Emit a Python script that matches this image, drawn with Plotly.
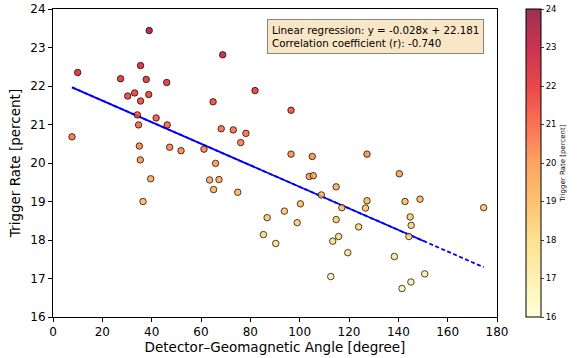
import numpy as np
import plotly.graph_objects as go

# Data
angle = [7.7, 10.0, 27.4, 30.3, 33.1, 34.2, 34.7, 35.0, 35.4, 35.5, 35.5, 36.5, 37.8, 38.8, 39.0,
         39.6, 41.8, 46.1, 46.3, 47.3, 51.9, 61.2, 63.5, 64.9, 65.1, 65.9, 67.3, 68.2, 68.8, 73.1,
         74.9, 76.1, 78.2, 81.9, 85.3, 86.8, 90.3, 93.8, 96.5, 96.5, 99.0, 100.3, 103.9, 105.1,
         105.5, 108.8, 112.6, 113.4, 114.8, 114.8, 115.8, 117.1, 119.5, 123.9, 126.7, 127.3, 127.3,
         138.4, 140.4, 141.5, 142.7, 144.3, 144.8, 145.1, 145.2, 148.8, 150.7, 174.6]
rate = [20.68, 22.35, 22.19, 21.74, 21.82, 21.25, 20.99, 20.44, 20.08, 22.53, 21.61, 19.00, 22.17,
        21.78, 23.44, 19.59, 21.17, 22.09, 20.99, 20.41, 20.32, 20.36, 19.56, 21.59, 19.31, 19.99,
        19.57, 20.89, 22.81, 20.86, 19.24, 20.53, 20.77, 21.88, 18.14, 18.58, 17.91, 18.75, 21.37,
        20.23, 18.45, 18.94, 19.65, 20.17, 19.67, 19.17, 17.05, 17.97, 19.38, 18.53, 18.09, 18.84,
        17.67, 18.34, 18.83, 20.23, 19.02, 17.57, 19.72, 16.74, 19.00, 18.09, 18.60, 16.91, 18.38,
        19.06, 17.12, 18.84]
slope = -0.028
intercept = 22.181
r_coef = -0.740
solid_end = 150.7
x_ticks = [0, 20, 40, 60, 80, 100, 120, 140, 160, 180]
y_ticks = [16, 17, 18, 19, 20, 21, 22, 23, 24]
cbar_ticks = [16, 17, 18, 19, 20, 21, 22, 23, 24]

alpha = 0.8
ylorrd = ["#ffffcc", "#ffeda0", "#fed976", "#feb24c", "#fd8d3c", "#fc4e2a", "#e31a1c", "#bd0026", "#800026"]
def rgba(h, a):
    h = h.lstrip("#")
    return f"rgba({int(h[0:2],16)},{int(h[2:4],16)},{int(h[4:6],16)},{a})"
cscale = [[i / (len(ylorrd) - 1), rgba(c, alpha)] for i, c in enumerate(ylorrd)]

xmin, xmax = min(angle), max(angle)
xl_full = np.array([xmin, xmax])
xl_solid = np.array([xmin, solid_end])

fig = go.Figure()
fig.add_trace(go.Scatter(x=xl_full, y=slope * xl_full + intercept, mode="lines",
                         line=dict(color="#0000ff", width=1.8, dash="4px,2.5px"), showlegend=False))
fig.add_trace(go.Scatter(x=xl_solid, y=slope * xl_solid + intercept, mode="lines",
                         line=dict(color="#0000ff", width=1.8), showlegend=False))
fig.add_trace(go.Scatter(
    x=angle, y=rate, mode="markers", showlegend=False,
    marker=dict(size=6.5, color=rate, colorscale=cscale, cmin=16, cmax=24,
                line=dict(color="rgba(0,0,0,0.8)", width=0.9),
                colorbar=dict(x=1.066, xanchor="left", xpad=0, ypad=0, y=0.5, yanchor="middle",
                              len=1, lenmode="fraction", thickness=15, outlinecolor="black",
                              outlinewidth=1, tickvals=cbar_ticks, ticks="outside", ticklen=3,
                              tickfont=dict(size=8.5, color="black"),
                              title=dict(text="Trigger Rate [percent]", side="right",
                                         font=dict(size=7, color="black"))))))

fig.add_annotation(xref="paper", yref="paper", x=0.482, y=0.966, xanchor="left", yanchor="top",
                   text=f"Linear regression: y = {slope:.3f}x + {intercept:.3f}<br>Correlation coefficient (r): {r_coef:.3f}",
                   align="left", showarrow=False, font=dict(size=10.3, color="black"),
                   bgcolor="rgba(245,222,179,0.75)", bordercolor="rgba(120,120,120,0.9)",
                   borderwidth=1, borderpad=4)

axis_common = dict(showline=True, linecolor="black", linewidth=1, mirror=True, ticks="outside",
                   ticklen=4, tickcolor="black", showgrid=False, zeroline=False, automargin=False,
                   tickfont=dict(size=12, color="black"))
fig.update_xaxes(range=[0, 180], tickvals=x_ticks, title=dict(text="Detector–Geomagnetic Angle [degree]",
                 font=dict(size=13.5, color="black"), standoff=4), **axis_common)
fig.update_yaxes(range=[16, 24], tickvals=y_ticks, title=dict(text="Trigger Rate [percent]",
                 font=dict(size=13.5, color="black"), standoff=6), **axis_common)
fig.update_layout(width=579, height=358, margin=dict(l=53, r=82, t=9, b=41, autoexpand=False),
                  paper_bgcolor="white", plot_bgcolor="white",
                  font=dict(family="DejaVu Sans", color="black"))
fig.write_html("out.html")
